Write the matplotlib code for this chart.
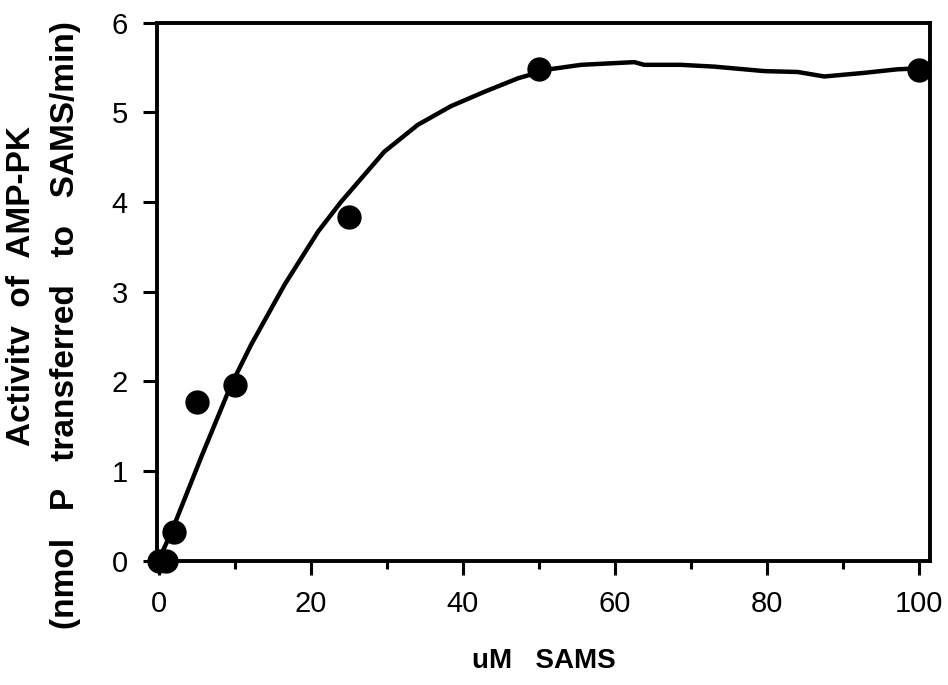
import matplotlib
matplotlib.use("Agg")
import matplotlib.pyplot as plt
from matplotlib.ticker import MultipleLocator

plt.rcParams['font.family'] = ['Liberation Sans', 'DejaVu Sans']

# measured data points
sams_um = [0, 1, 2, 5, 10, 25, 50, 100]
activity = [0.0, 0.0, 0.32, 1.77, 1.96, 3.83, 5.48, 5.47]

# hand-drawn fitted curve
curve_x = [0, 1.71, 5.65, 9.5, 12.2, 16.6, 21.0, 24.0, 29.7, 34.1,
           38.5, 42.9, 47.3, 51.4, 55.6, 62.6, 63.9, 68.7, 73.1, 79.7, 84.1,
           87.6, 92.8, 97.2, 99.8]
curve_y = [0.0, 0.32, 1.16, 1.95, 2.41, 3.08, 3.67, 4.0, 4.56, 4.86,
           5.07, 5.23, 5.38, 5.48, 5.53, 5.56, 5.53, 5.53, 5.51, 5.46, 5.45,
           5.40, 5.44, 5.48, 5.49]

x_ticks = [0, 20, 40, 60, 80, 100]
y_ticks = [0, 1, 2, 3, 4, 5, 6]

fig = plt.figure(figsize=(9.48, 6.85), dpi=100)
ax = fig.add_axes([157 / 948, 1 - 560.5 / 685, (930 - 157) / 948, (560.5 - 22.7) / 685])

ax.plot(curve_x, curve_y, color='black', lw=3.2, solid_capstyle='round',
        solid_joinstyle='round', zorder=2)
ax.plot(sams_um, activity, 'o', color='black', markersize=16.5, zorder=3,
        clip_on=False)

ax.set_xlim(-0.2, 101.5)
ax.set_ylim(0, 6)
ax.set_xticks(x_ticks)
ax.set_yticks(y_ticks)
ax.xaxis.set_minor_locator(MultipleLocator(10))
ax.set_xticklabels([str(v) for v in x_ticks])
ax.set_yticklabels([str(v) for v in y_ticks])

for s in ax.spines.values():
    s.set_linewidth(2.8)
ax.tick_params(axis='both', which='major', direction='out', length=10, width=2.2,
               labelsize=21, color='black')
ax.tick_params(axis='x', which='major', pad=11)
ax.tick_params(axis='y', which='major', pad=11)
ax.tick_params(axis='x', which='minor', direction='out', length=6, width=2.2)
ax.tick_params(top=False, right=False)

ax.set_xlabel('uM   SAMS', fontsize=20, fontweight='bold', labelpad=22)

fig.text(22 / 948, 1 - 286 / 685, 'Activitv  of  AMP-PK', rotation=90,
         fontsize=24, fontweight='bold', ha='center', va='center')
fig.text(66 / 948, 1 - 325 / 685, '(nmol   P   transferred   to   SAMS/min)',
         rotation=90, fontsize=24, fontweight='bold', ha='center', va='center')

fig.savefig('out.png', dpi=100)
